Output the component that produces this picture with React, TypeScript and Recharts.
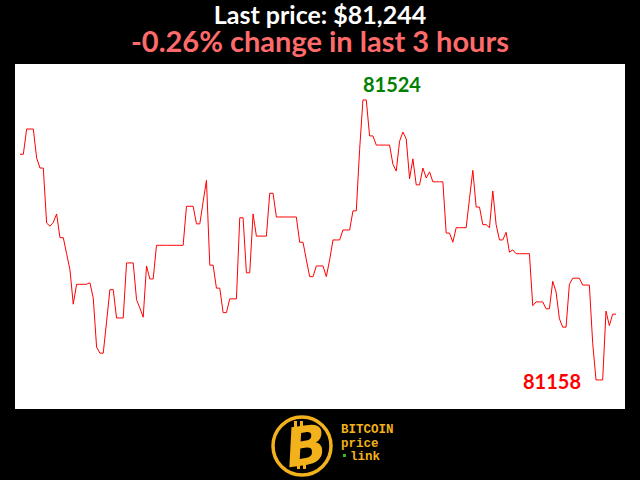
import { Line, LineChart, LabelList, XAxis, YAxis } from 'recharts';

// one price per minute over the last 3 hours
const prices = [
  81453, 81453, 81486, 81486, 81486, 81448, 81435, 81435, 81363, 81359,
  81364, 81375, 81344, 81344, 81323, 81302, 81257, 81283, 81283, 81283,
  81283, 81285, 81265, 81201, 81193, 81193, 81234, 81276, 81276, 81239,
  81239, 81239, 81311, 81311, 81311, 81263, 81252, 81240, 81307, 81290,
  81290, 81334, 81334, 81334, 81334, 81334, 81334, 81334, 81334, 81334,
  81385, 81385, 81385, 81362, 81362, 81391, 81419, 81308, 81308, 81278,
  81278, 81246, 81246, 81264, 81264, 81264, 81370, 81370, 81298, 81298,
  81375, 81346, 81346, 81346, 81346, 81402, 81402, 81371, 81371, 81371,
  81371, 81371, 81371, 81371, 81338, 81338, 81315, 81293, 81293, 81307,
  81307, 81307, 81293, 81315, 81341, 81341, 81341, 81354, 81354, 81354,
  81379, 81379, 81459, 81524, 81524, 81477, 81477, 81465, 81465, 81465,
  81465, 81465, 81440, 81431, 81470, 81482, 81473, 81421, 81447, 81413,
  81413, 81435, 81422, 81430, 81417, 81417, 81417, 81417, 81350, 81350,
  81338, 81357, 81357, 81357, 81357, 81395, 81432, 81384, 81384, 81361,
  81361, 81357, 81405, 81361, 81341, 81341, 81351, 81325, 81328, 81323,
  81323, 81323, 81323, 81323, 81255, 81260, 81260, 81260, 81251, 81251,
  81287, 81273, 81238, 81227, 81227, 81283, 81291, 81291, 81291, 81282,
  81282, 81282, 81206, 81158, 81158, 81158, 81248, 81229, 81244, 81244,
];

const title = 'Last price: $81,244';
const subtitle = '-0.26% change in last 3 hours';
const logoLines = ['BITCOIN', 'price', 'link'];

const data = prices.map((price, minute) => ({ minute, price }));
const maxIndex = prices.indexOf(Math.max(...prices));
const minIndex = prices.indexOf(Math.min(...prices));

const GOLD = '#f3b21b';

function ExtremeLabel(props: any) {
  const { x, y, index } = props;
  if (index === maxIndex) {
    return (
      <text x={x} y={y - 8} fill="#008000" fontSize={20} fontWeight="bold" fontFamily="Lato">
        {prices[index]}
      </text>
    );
  }
  if (index === minIndex) {
    return (
      <text x={x - 15} y={y + 9} textAnchor="end" fill="#ff0000" fontSize={20} fontWeight="bold" fontFamily="Lato">
        {prices[index]}
      </text>
    );
  }
  return null;
}

export default function App() {
  return (
    <div style={{ position: 'absolute', left: 0, top: 0, width: 640, height: 480, background: '#000' }}>
      <svg width={640} height={480} style={{ position: 'absolute', left: 0, top: 0 }}>
        <text x={320} y={24} textAnchor="middle" fill="#fff" fontSize={25} fontWeight="bold" fontFamily="Lato">
          {title}
        </text>
        <text x={320} y={52} textAnchor="middle" fill="#ff6a6a" fontSize={29} fontWeight="bold" fontFamily="Lato">
          {subtitle}
        </text>

        {/* logo */}
        <circle cx={302} cy={446} r={29} fill="none" stroke={GOLD} strokeWidth={3.5} />
        <rect x={294} y={421} width={3} height={7} fill={GOLD} />
        <rect x={300} y={421} width={3} height={7} fill={GOLD} />
        <rect x={297} y={463} width={3} height={6} fill={GOLD} />
        <rect x={303} y={463} width={3} height={6} fill={GOLD} />
        <text
          x={306}
          y={465}
          textAnchor="middle"
          fill={GOLD}
          fontSize={54}
          fontWeight="900"
          fontStyle="italic"
          fontFamily="DejaVu Sans"
          transform="rotate(-8 304 446)"
        >
          B
        </text>
        <g fontFamily="Liberation Mono" fontWeight="bold" fontSize={12.5} fill={GOLD}>
          <text x={341} y={433}>{logoLines[0]}</text>
          <text x={341} y={447}>{logoLines[1]}</text>
          <text x={350} y={460}>{logoLines[2]}</text>
        </g>
        <rect x={343} y={454} width={3} height={3} fill="#2db82d" />
      </svg>

      <div style={{ position: 'absolute', left: 15, top: 64 }}>
        <LineChart
          width={610}
          height={345}
          data={data}
          margin={{ top: 0, right: 9, bottom: 0, left: 5 }}
          style={{ background: '#fff' }}
        >
          <XAxis dataKey="minute" type="number" domain={[0, prices.length - 1]} hide />
          <YAxis type="number" domain={[81120, 81571]} hide allowDataOverflow />
          <Line
            type="linear"
            dataKey="price"
            stroke="#ff0000"
            strokeWidth={1}
            dot={false}
            isAnimationActive={false}
          >
            <LabelList dataKey="price" content={ExtremeLabel} />
          </Line>
        </LineChart>
      </div>
    </div>
  );
}
